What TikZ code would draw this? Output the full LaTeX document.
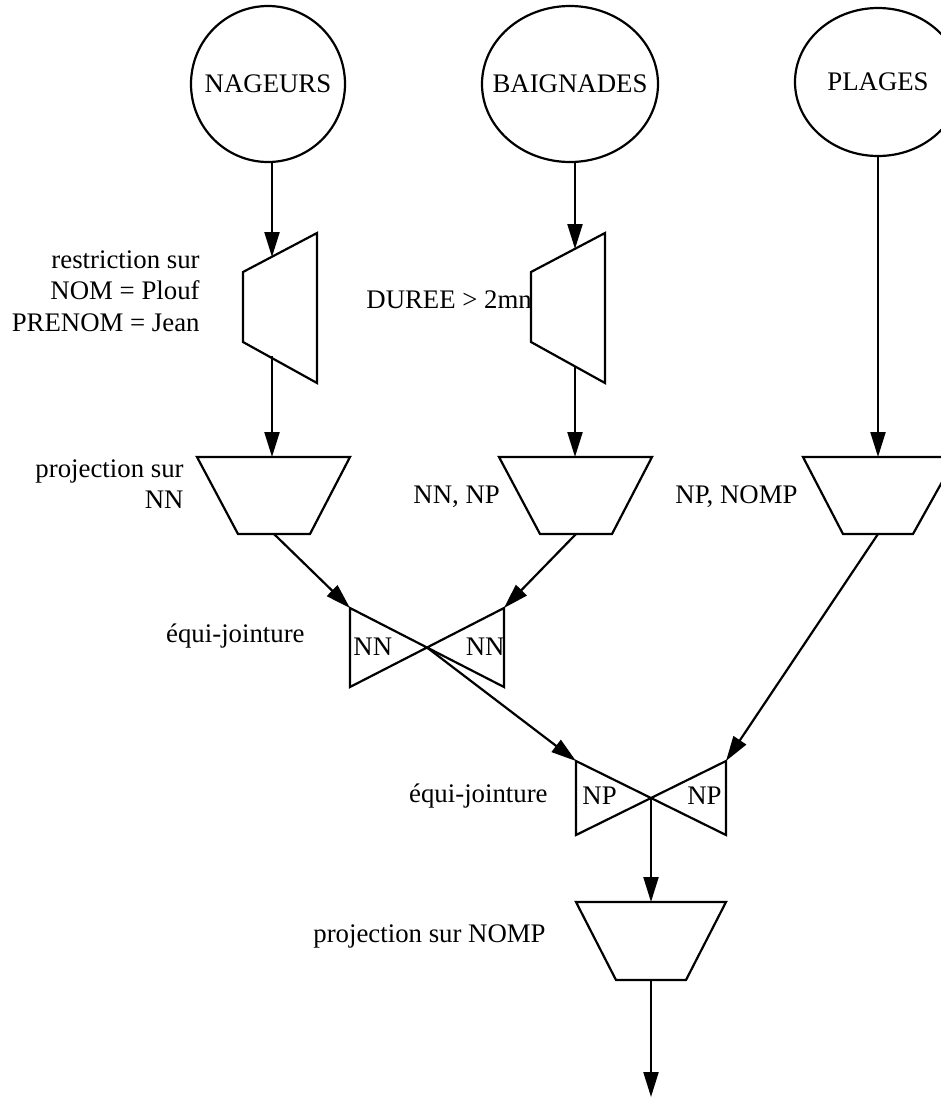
\documentclass[tikz,border=0pt]{standalone}
\usepackage{fontspec}
\setmainfont{Liberation Serif}
\usetikzlibrary{arrows.meta,shapes.geometric}

\newcommand{\relname}[1]{\makebox[0pt]{#1}}

\begin{document}
\begin{tikzpicture}[
    x=0.5pt, y=-0.5pt,
    font=\fontsize{13.4pt}{15.7pt}\selectfont,
    rel/.style={ellipse, draw, line width=1.1pt, inner sep=0pt},
    op/.style={draw, line width=1.1pt, line join=miter},
    arrow/.style={-{Triangle[length=12.5pt,width=7.5pt]}, line width=1.1pt},
    lbl/.style={inner sep=0pt}
]
\useasboundingbox (0,0) rectangle (941,1099);
\clip (0,0) rectangle (941,1099);

% relations
\node[rel, minimum width=77pt, minimum height=78pt] (nageurs) at (268,84) {\relname{NAGEURS}};
\node[rel, minimum width=88pt, minimum height=78pt] (baignades) at (570,84) {\relname{BAIGNADES}};
\node[rel, minimum width=83pt, minimum height=74pt] (plages) at (878,82) {\relname{PLAGES}};

% restrictions
\draw[op] (243,272) -- (317,233) -- (317,383) -- (243,342) -- cycle;
\draw[op] (531,272) -- (605,233) -- (605,383) -- (531,342) -- cycle;
\coordinate (r1in) at (272,257);
\coordinate (r1out) at (272,356);
\coordinate (r2in) at (575,249);
\coordinate (r2out) at (575,366);

% projections
\draw[op] (197,457) -- (350,457) -- (310,534) -- (238,534) -- cycle;
\draw[op] (499,457) -- (652,457) -- (612,534) -- (540,534) -- cycle;
\draw[op] (803,457) -- (956,457) -- (913,534) -- (843,534) -- cycle;
\draw[op] (576,902) -- (726,902) -- (686,980) -- (616,980) -- cycle;
\coordinate (p1in) at (272,457);
\coordinate (p1out) at (274,534);
\coordinate (p2in) at (575,457);
\coordinate (p2out) at (576,534);
\coordinate (p3in) at (878,457);
\coordinate (p3out) at (878,534);
\coordinate (p4in) at (651,902);
\coordinate (p4out) at (651,980);

% joins
\draw[op] (350,608) -- (504,687) -- (504,608) -- (350,687) -- cycle;
\draw[op] (576,761) -- (726,835) -- (726,761) -- (576,835) -- cycle;
\coordinate (j1l) at (350,608);
\coordinate (j1r) at (504,608);
\coordinate (j1c) at (427,647.5);
\coordinate (j2l) at (576,761);
\coordinate (j2r) at (726,761);
\coordinate (j2c) at (651,798);
\coordinate (result) at (651,1097);

% labels
\node[lbl, anchor=east, align=right] (restr) at (200,291) {restriction sur\\NOM = Plouf\\PRENOM = Jean};
\node[lbl, anchor=base west] (duree) at (366,308) {DUREE > 2mn};
\node[lbl, anchor=east, align=right] (proj1) at (184,484) {projection sur\\NN};
\node[lbl, anchor=base west] (proj2) at (413,503) {NN, NP};
\node[lbl, anchor=base west] (proj3) at (675,503) {NP, NOMP};
\node[lbl, anchor=base east] (join1) at (305,642) {équi-jointure};
\node[lbl, anchor=base west] (nn1) at (353,655) {NN};
\node[lbl, anchor=base east] (nn2) at (505,655) {NN};
\node[lbl, anchor=base east] (join2) at (548,802) {équi-jointure};
\node[lbl, anchor=base west] (np1) at (582,804) {NP};
\node[lbl, anchor=base east] (np2) at (722,804) {NP};
\node[lbl, anchor=base west] (proj4) at (313,942) {projection sur NOMP};

% flow
\draw[arrow] (nageurs.south -| r1in) -- (r1in);
\draw[arrow] (r1out) -- (p1in);
\draw[arrow] (baignades.south -| r2in) -- (r2in);
\draw[arrow] (r2out) -- (p2in);
\draw[arrow] (plages.south) -- (p3in);
\draw[arrow] (p1out) -- (j1l);
\draw[arrow] (p2out) -- (j1r);
\draw[arrow] (j1c) -- (j2l);
\draw[arrow] (p3out) -- (j2r);
\draw[arrow] (j2c) -- (p4in);
\draw[arrow] (p4out) -- (result);
\end{tikzpicture}
\end{document}
